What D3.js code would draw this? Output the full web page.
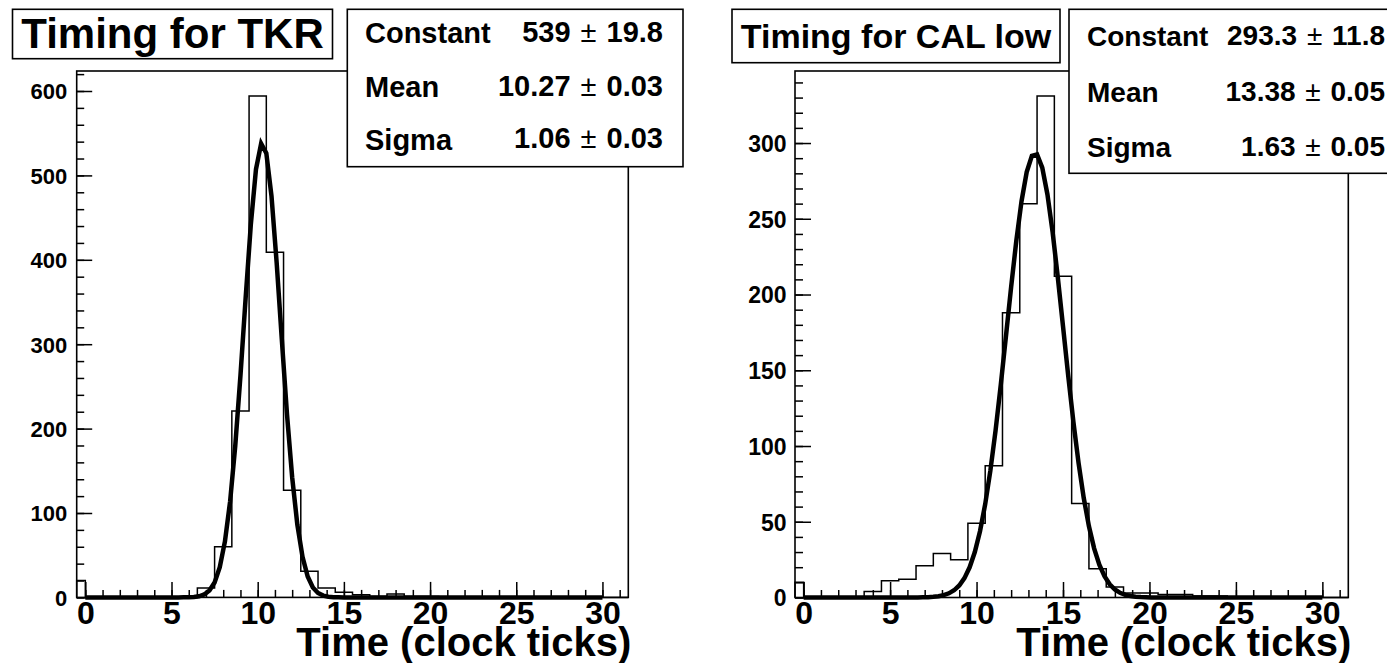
<!DOCTYPE html>
<html><head><meta charset="utf-8">
<script src="https://cdn.jsdelivr.net/npm/d3@7"></script>
<style>html,body{margin:0;padding:0;background:#fff;overflow:hidden}svg{display:block}</style>
</head><body>
<svg id="c" width="1387" height="663"></svg>
<script>
// ---------------- data ----------------
const binCenters = [0,1,2,3,4,5,6,7,8,9,10,11,12,13,14,15,16,17,18,19,20,21,22,23,24,25,26,27,28,29,30,31];
const tkrCounts  = [20,0,0,0,0,0,0,11,60,221,594,409,127,31,11,6,3,1,4,1,1,0,0,0,0,0,0,0,0,0,0,0];
const calCounts  = [10,0,0,0,4,11,12,21,29,25,49,87,188,260,331,212,62,19,7,3,3,2,2,1,1,0,0,0,0,0,0,0];
const firstBinHiEdge = 0;
const xRange = [-0.5, 31.5];
const fitRange = [0, 30];
const fitParamNames = ["Constant", "Mean", "Sigma"];
const tkrFitValues = [539, 10.27, 1.06];
const tkrFitErrors = [19.8, 0.03, 0.03];
const calFitValues = [293.3, 13.38, 1.63];
const calFitErrors = [11.8, 0.05, 0.05];
const xMajorTicks = [0, 5, 10, 15, 20, 25, 30];
const tkrYMajorTicks = [0, 100, 200, 300, 400, 500, 600];
const tkrYMinorTicks = [0,20,40,60,80,100,120,140,160,180,200,220,240,260,280,300,320,340,360,380,400,420,440,460,480,500,520,540,560,580,600,620];
const calYMajorTicks = [0, 50, 100, 150, 200, 250, 300];
const calYMinorTicks = [0,10,20,30,40,50,60,70,80,90,100,110,120,130,140,150,160,170,180,190,200,210,220,230,240,250,260,270,280,290,300,310,320,330,340];
const panelTitles = ["Timing for TKR", "Timing for CAL low"];
const xAxisTitle = "Time (clock ticks)";

// ---------------- layout ----------------
const FONT = "'Liberation Sans', Arial, Helvetica, sans-serif";
const svg = d3.select("#c");
svg.append("rect").attr("width",1387).attr("height",663).attr("fill","#fff");

const panels = [
  { counts: tkrCounts, fitV: tkrFitValues, fitE: tkrFitErrors, title: panelTitles[0],
    yMajor: tkrYMajorTicks, yMinor: tkrYMinorTicks,
    frame: {x0:76.7, x1:628.3, y0:71, y1:597.4},
    tbox: {x:12.5, y:9.3, w:320, h:49.4, font:42, base:48},
    sbox: {x:347.3, y:9.3, w:335.7, h:157.4, font:29, labelX:365, valueX:663,
           labelBase:[42.5,97,149.5], valueBase:[41.5,95.5,148]},
    yFont: 22, yGap: 9.5, yMajLen: 15.5, yMinLen: 7.5 },
  { counts: calCounts, fitV: calFitValues, fitE: calFitErrors, title: panelTitles[1],
    yMajor: calYMajorTicks, yMinor: calYMinorTicks,
    frame: {x0:795, x1:1348.3, y0:71, y1:597.5},
    tbox: {x:732, y:9.3, w:328, h:53.4, font:34, base:48},
    sbox: {x:1069, y:9.3, w:340, h:164, font:28, labelX:1087, valueX:1385,
           labelBase:[45.5,101.5,156.5], valueBase:[44.5,100.5,155.5]},
    yFont: 23, yGap: 8.5, yMajLen: 16, yMinLen: 8 }
];

function stext(parent, x, y, str, size, anchor, weight) {
  return parent.append("text").attr("x", x).attr("y", y).attr("text-anchor", anchor).attr("font-size", size)
    .attr("font-weight", weight || "bold").attr("font-family", FONT).attr("fill", "#000").text(str);
}

panels.forEach(p => {
  const f = p.frame;
  const x = d3.scaleLinear().domain(xRange).range([f.x0, f.x1]);
  const yMax = d3.max(p.counts) * 1.05;
  const y = d3.scaleLinear().domain([0, yMax]).range([f.y1, f.y0]);
  const g = svg.append("g");

  // frame
  g.append("rect").attr("x", f.x0).attr("y", f.y0).attr("width", f.x1 - f.x0).attr("height", f.y1 - f.y0)
    .attr("fill", "none").attr("stroke", "#000").attr("stroke-width", 1.6);

  // x axis minor + major ticks
  const gxMin = g.append("g").attr("transform", `translate(0,${f.y1})`)
    .call(d3.axisBottom(x).tickValues(binCenters).tickSize(-7.5).tickFormat(""));
  const gxMaj = g.append("g").attr("transform", `translate(0,${f.y1})`)
    .call(d3.axisBottom(x).tickValues(xMajorTicks).tickSize(-15.5).tickFormat(d3.format("d")));
  [gxMin, gxMaj].forEach(a => { a.select(".domain").remove(); a.selectAll("line").attr("stroke-width", 1.5); });
  gxMaj.selectAll("text").attr("dy", null).attr("y", 623.5 - f.y1)
    .attr("font-size", 32).attr("font-weight", "bold").attr("font-family", FONT).attr("fill", "#000");

  // y axis
  const gyMin = g.append("g").attr("transform", `translate(${f.x0},0)`)
    .call(d3.axisLeft(y).tickValues(p.yMinor).tickSize(-p.yMinLen).tickFormat(""));
  const gyMaj = g.append("g").attr("transform", `translate(${f.x0},0)`)
    .call(d3.axisLeft(y).tickValues(p.yMajor).tickSize(-p.yMajLen).tickFormat(d3.format("d")));
  [gyMin, gyMaj].forEach(a => { a.select(".domain").remove(); a.selectAll("line").attr("stroke-width", 1.5); });
  gyMaj.selectAll("text").attr("x", -p.yGap).attr("dy", null).attr("y", p.yFont * 0.36).attr("text-anchor", "end")
    .attr("font-size", p.yFont).attr("font-weight", "bold").attr("font-family", FONT).attr("fill", "#000");

  // histogram outline
  const bins = binCenters.map((c, i) => ({
    lo: i === 0 ? xRange[0] : c - 0.5,
    hi: i === 0 ? firstBinHiEdge : c + 0.5,
    v: p.counts[i]
  }));
  const pts = [[bins[0].lo, 0]];
  bins.forEach((b, i) => {
    pts.push([b.lo, b.v], [b.hi, b.v]);
    const nx = bins[i + 1];
    if (nx && nx.lo !== b.hi) pts.push([b.hi, 0], [nx.lo, 0]);
  });
  pts.push([bins[bins.length - 1].hi, 0]);
  g.append("path").attr("d", d3.line().x(d => x(d[0])).y(d => y(d[1]))(pts))
    .attr("fill", "none").attr("stroke", "#000").attr("stroke-width", 1.5);

  // fit curve (gaussian with the fitted parameters), 100 segments like ROOT
  const [C, M, S] = p.fitV;
  const npx = 100;
  const fpts = d3.range(npx + 1).map(i => {
    const xv = fitRange[0] + i * (fitRange[1] - fitRange[0]) / npx;
    return [xv, C * Math.exp(-0.5 * ((xv - M) / S) ** 2)];
  });
  g.append("path").attr("d", d3.line().x(d => x(d[0])).y(d => y(d[1]))(fpts))
    .attr("fill", "none").attr("stroke", "#000").attr("stroke-width", 4.5).attr("stroke-linejoin", "miter");

  // x axis title
  stext(g, f.x1 + 3, 656, xAxisTitle, 40, "end");

  // stats box
  const s = p.sbox;
  g.append("rect").attr("x", s.x).attr("y", s.y).attr("width", s.w).attr("height", s.h)
    .attr("fill", "#fff").attr("stroke", "#000").attr("stroke-width", 1.6);
  fitParamNames.forEach((nm, i) => {
    stext(g, s.labelX, s.labelBase[i], nm, s.font, "start");
    const t = stext(g, s.valueX, s.valueBase[i], "", s.font, "end");
    t.append("tspan").text(String(p.fitV[i]) + " ");
    t.append("tspan").attr("dx", 2).attr("font-weight", "normal").text("\u00B1");
    t.append("tspan").attr("dx", 2).text(" " + String(p.fitE[i]));
  });

  // title box
  const tb = p.tbox;
  g.append("rect").attr("x", tb.x).attr("y", tb.y).attr("width", tb.w).attr("height", tb.h)
    .attr("fill", "#fff").attr("stroke", "#000").attr("stroke-width", 1.6);
  stext(g, tb.x + tb.w / 2, tb.base, p.title, tb.font, "middle");
});
</script>
</body></html>
